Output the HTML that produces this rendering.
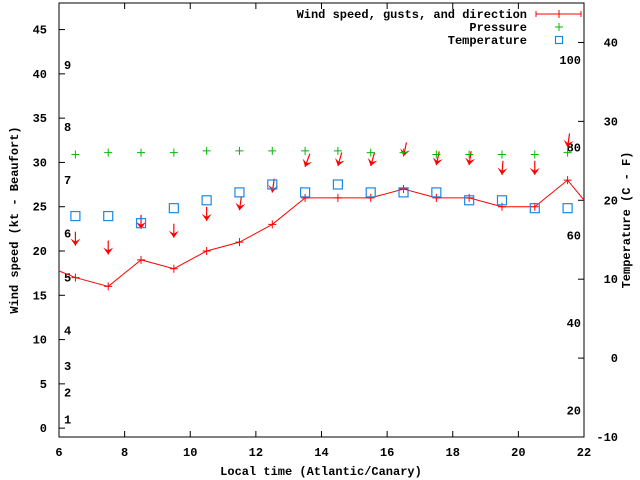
<!DOCTYPE html>
<html><head><meta charset="utf-8"><style>
body{margin:0;background:#fff}
svg{display:block}
text{font-family:"Liberation Mono",monospace;font-size:12px;font-weight:bold;fill:#000}
</style></head><body>
<svg id="c" width="640" height="480" xmlns="http://www.w3.org/2000/svg"></svg>
<script>
const hours=[6.5,7.5,8.5,9.5,10.5,11.5,12.5,13.5,14.5,15.5,16.5,17.5,18.5,19.5,20.5,21.5];
const windSpeed=[17,16,19,18,20,21,23,26,26,26,27,26,26,25,25,28];
const gust=[20.6,19.6,22.5,21.5,23.4,24.6,26.6,29.5,29.6,29.6,30.7,29.7,29.7,28.6,28.6,31.7];
const windDir=[0,0,0,0,0,8,8,20,16,16,12,12,8,4,0,8];
const pressure=[30.9,31.1,31.1,31.1,31.3,31.3,31.3,31.3,31.3,31.1,31.1,30.9,30.9,30.9,30.9,31.1];
const tempC=[18,18,17.1,19,20,21,22,21,22,21,21,21,20,20,19,19];
const xTicks=[6,8,10,12,14,16,18,20,22];
const yTicks=[0,5,10,15,20,25,30,35,40,45];
const y2Ticks=[-10,0,10,20,30,40];
const fTicks=[20,40,60,80,100];
const bft=[[1,1],[2,4],[3,7],[4,11],[5,17],[6,22],[7,28],[8,34],[9,41]];

const L=59,R=584,T=3,B=437;
const X=h=>L+(h-6)*(R-L)/16;
const Y=k=>B-(k+1)*(B-T)/49;
const Y2=c=>B-(c+10)*(B-T)/55;
const svg=document.getElementById('c');
const NS='http://www.w3.org/2000/svg';
function mk(t,a,p){const e=document.createElementNS(NS,t);for(const k in a)e.setAttribute(k,a[k]);(p||svg).appendChild(e);return e;}

const frame=mk('rect',{x:L,y:T,width:R-L,height:B-T,fill:'none',stroke:'#000','stroke-width':1});



xTicks.forEach(h=>{
  const g=mk('g',{});
  
  
  mk('line',{x1:X(h),x2:X(h),y1:B,y2:B-6,stroke:'#000'},g);
  mk('line',{x1:X(h),x2:X(h),y1:T,y2:T+6,stroke:'#000'},g);
  const t=mk('text',{x:X(h),y:B+19,'text-anchor':'middle'},g);t.textContent=h;
});
yTicks.forEach(v=>{
  const g=mk('g',{});
  
  
  mk('line',{x1:L,x2:L+6,y1:Y(v),y2:Y(v),stroke:'#000'},g);
  const t=mk('text',{x:L-12,y:Y(v)+4,'text-anchor':'end'},g);t.textContent=v;
});
y2Ticks.forEach(v=>{
  const g=mk('g',{});
  
  
  mk('line',{x1:R,x2:R-6,y1:Y2(v),y2:Y2(v),stroke:'#000'},g);
  const t=mk('text',{x:R+34,y:Y2(v)+4,'text-anchor':'end'},g);t.textContent=v;
});
fTicks.forEach(f=>{
  const t=mk('text',{x:R-3,y:Y2((f-32)*5/9)+4,'text-anchor':'end'});
  
  
  t.textContent=f;
});
bft.forEach(b=>{
  const t=mk('text',{x:64,y:Y(b[1])+4});
  
  
  t.textContent=b[0];
});

const clip=mk('clipPath',{id:'pc'});mk('rect',{x:L,y:T,width:R-L,height:B-T},clip);
// wind line
const hs=[5.5].concat(hours,[22.5]);const ws=[18.5].concat(windSpeed,[23.5]);
const wl=mk('polyline',{points:hs.map((h,i)=>X(h)+','+Y(ws[i])).join(' '),fill:'none',stroke:'#f00','clip-path':'url(#pc)'});


hours.forEach((h,i)=>{
  const p=mk('path',{d:`M${X(h)-4},${Y(windSpeed[i])}h8M${X(h)},${Y(windSpeed[i])-4}v8`,stroke:'#f00'});
  
  
  // arrow
  const a=windDir[i]*Math.PI/180,len=14;
  const hx=X(h),hy=Y(gust[i]);
  const tx=hx+len*Math.sin(a),ty=hy-len*Math.cos(a);
  const ux=(hx-tx)/len,uy=(hy-ty)/len;
  const g=mk('g',{});
  
  
  mk('line',{x1:tx,y1:ty,x2:hx,y2:hy,stroke:'#f00','stroke-width':1.2},g);
  const bx=hx-ux*7,by=hy-uy*7;
  mk('polygon',{points:`${hx},${hy} ${bx-uy*5},${by+ux*5} ${hx-ux*4},${hy-uy*4} ${bx+uy*5},${by-ux*5}`,fill:'#f00'},g);
  const q=mk('path',{d:`M${X(h)-4},${Y(pressure[i])}h8M${X(h)},${Y(pressure[i])-4}v8`,stroke:'#0b0'});
  
  
  const s=mk('rect',{x:X(h)-4.5,y:Y2(tempC[i])-4.5,width:9,height:9,fill:'none',stroke:'#1e88e5','stroke-width':1.2});
  
  
});

// legend
const leg=mk('g',{});


[['Wind speed, gusts, and direction',14],['Pressure',27],['Temperature',40]].forEach((e,i)=>{
  const t=mk('text',{x:527,y:e[1]+4,'text-anchor':'end'},leg);t.textContent=e[0];
  const cx=551+8;
  if(i==0){mk('path',{d:`M536,${e[1]}h45M536,${e[1]-3}v6M581,${e[1]-3}v6M${cx},${e[1]-4}v8`,stroke:'#f00'},leg);}
  if(i==1){mk('path',{d:`M${cx-4},${e[1]}h8M${cx},${e[1]-4}v8`,stroke:'#0b0'},leg);}
  if(i==2){mk('rect',{x:cx-3.5,y:e[1]-3.5,width:7,height:7,fill:'none',stroke:'#1e88e5','stroke-width':1.2},leg);}
});

const xt=mk('text',{x:321,y:475,'text-anchor':'middle'});


xt.textContent='Local time (Atlantic/Canary)';
const yt=mk('text',{x:0,y:0,'text-anchor':'middle',transform:'translate(18,220) rotate(-90)'});


yt.textContent='Wind speed (kt - Beaufort)';
const y2t=mk('text',{x:0,y:0,'text-anchor':'middle',transform:'translate(630,220) rotate(-90)'});


y2t.textContent='Temperature (C - F)';
</script>
</body></html>
